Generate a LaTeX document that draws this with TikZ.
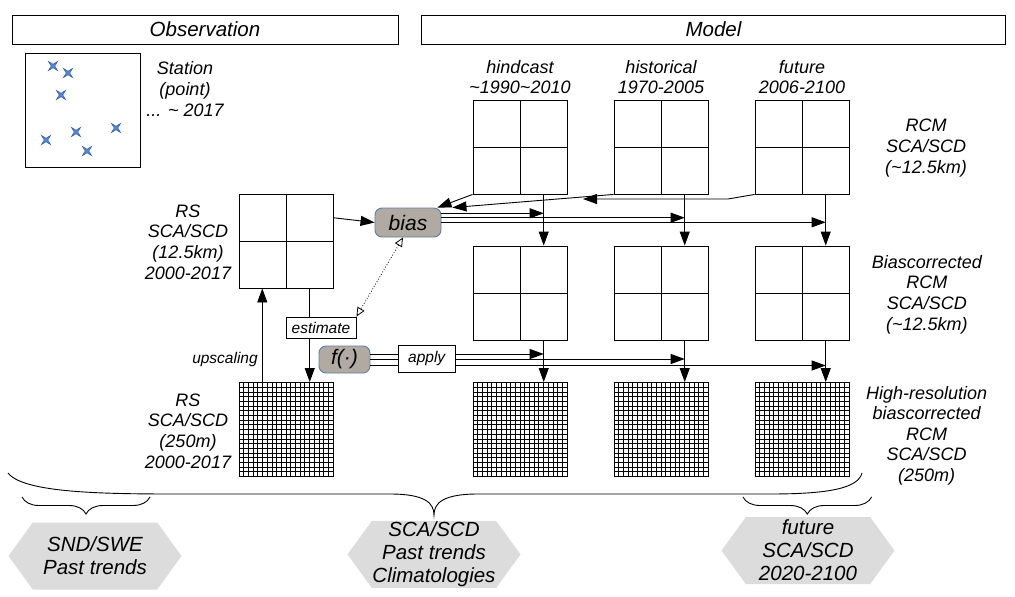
\documentclass[tikz,border=0pt]{standalone}
\usepackage{fontspec}
\setmainfont{Liberation Sans}
\usetikzlibrary{shapes.geometric,shapes.symbols,arrows.meta,calc,decorations.pathreplacing}

\definecolor{biasfill}{RGB}{176,170,162}
\definecolor{biasedge}{RGB}{95,125,165}
\definecolor{hexfill}{RGB}{220,220,220}
\definecolor{starfill}{RGB}{90,135,200}
\definecolor{staredge}{RGB}{55,95,160}

\begin{document}
\begin{tikzpicture}[x=1pt,y=-1pt,line width=0.9pt,
 lbl/.style={font=\fontsize{18}{20.6}\selectfont\itshape, align=center, inner sep=0pt},
 header/.style={draw, minimum width=386pt, minimum height=29pt, font=\fontsize{20.5}{22}\selectfont\itshape, inner sep=0pt},
 coarse/.style={draw, minimum size=94pt, inner sep=0pt,
   path picture={\draw (path picture bounding box.north) -- (path picture bounding box.south)
                       (path picture bounding box.west) -- (path picture bounding box.east);}},
 fine/.style={draw, minimum size=94pt, inner sep=0pt,
   path picture={\foreach \i in {1,...,19}{
     \draw[line width=0.75pt] ($(path picture bounding box.north west)!\i/20!(path picture bounding box.north east)$) -- ($(path picture bounding box.south west)!\i/20!(path picture bounding box.south east)$);
     \draw[line width=0.75pt] ($(path picture bounding box.north west)!\i/20!(path picture bounding box.south west)$) -- ($(path picture bounding box.north east)!\i/20!(path picture bounding box.south east)$);}}},
 rnd/.style={draw=biasedge, fill=biasfill, rounded corners=7pt, font=\fontsize{21}{24}\selectfont\itshape, inner sep=0pt},
 sbox/.style={draw, font=\fontsize{15.5}{18}\selectfont\itshape, inner sep=0pt, minimum height=21pt},
 small/.style={font=\fontsize{15.5}{18}\selectfont\itshape, inner sep=0pt},
 hex/.style={shape=signal, signal to=west and east, signal pointer angle=108, fill=hexfill, draw=none,
   minimum width=173pt, minimum height=67pt, inner sep=0pt, align=center,
   font=\fontsize{20.5}{23}\selectfont\itshape},
 starmark/.style={fill=starfill, draw=staredge, line width=0.5pt},
 arr/.style={-{Triangle[length=14pt,width=10pt]}},
 bracestyle/.style={decorate, decoration={brace, mirror, amplitude=17pt}}
]
\useasboundingbox (0,0) rectangle (1015,597);

% headers
\node[header] (obs) at (205,29.5) {Observation};
\node[header, minimum width=584pt] (mod) at (713.5,29.5) {Model};

% station
\node[draw, minimum width=115pt, minimum height=114pt, inner sep=0pt] (stbox) at (82.5,110) {};
\foreach \p in {(53,66),(68,73),(61,95),(46,140),(76,132),(87,151),(116,128)}{
  \path[starmark] \p +(45:6.5) -- +(90:1.8) -- +(135:6.5) -- +(180:1.8) -- +(225:6.5) -- +(270:1.8) -- +(315:6.5) -- +(0:1.8) -- cycle;
}
\node[lbl] (stlbl) at (185,89) {Station\\(point)\\... \textasciitilde{} 2017};

% RS
\node[coarse] (rs) at (286,241) {};
\node[lbl] (rslbl) at (188,242) {RS\\SCA/SCD\\(12.5km)\\2000-2017};
\node[fine] (rsf) at (286,429.5) {};
\node[lbl] (rsflbl) at (188,431) {RS\\SCA/SCD\\(250m)\\2000-2017};
\node[small] (up) at (225,359) {upscaling};

\node[sbox, minimum width=70pt] (est) at (321,327.5) {estimate};
\node[rnd, minimum width=51pt, minimum height=27pt] (f) at (344.5,359.5) {f(·)};
\node[sbox, minimum width=56.5pt, minimum height=27pt] (apply) at (426.7,358.5) {apply};
\node[rnd, minimum width=66pt, minimum height=29pt] (bias) at (408,222.5) {bias};

% model columns
\node[coarse] (hc) at (520,147) {};
\node[coarse] (hi) at (661,147) {};
\node[coarse] (fu) at (802,147) {};
\node[coarse] (hcb) at (520,293) {};
\node[coarse] (hib) at (661,293) {};
\node[coarse] (fub) at (802,293) {};
\node[fine] (hcf) at (520,429.5) {};
\node[fine] (hif) at (661,429.5) {};
\node[fine] (fuf) at (802,429.5) {};

\node[lbl] (hcl) at (520,77) {hindcast\\\textasciitilde 1990\textasciitilde 2010};
\node[lbl] (hil) at (661,77) {historical\\1970-2005};
\node[lbl] (ful) at (802,77) {future\\2006-2100};

\node[lbl] (rcml) at (926,148) {RCM\\SCA/SCD\\(\textasciitilde 12.5km)};
\node[lbl] (bcl) at (926.8,294.5) {Biascorrected\\RCM\\SCA/SCD\\(\textasciitilde 12.5km)};
\node[lbl] (hrl) at (926.7,435.6) {High-resolution\\biascorrected\\RCM\\SCA/SCD\\(250m)};

% column line positions
\coordinate (hcx) at ($(hc.south)!0.5!(hc.south east)$);
\coordinate (hix) at ($(hi.south)!0.5!(hi.south east)$);
\coordinate (fux) at ($(fu.south)!0.5!(fu.south east)$);

% vertical arrows
\foreach \c/\b/\g in {hcx/hcb/hcf, hix/hib/hif, fux/fub/fuf}{
  \draw[arr] (\c) -- (\c |- \b.north);
  \draw[arr] (\c |- \b.south) -- (\c |- \g.north);
}

% RS to bias
\draw[arr] ($(rs.north east)!0.255!(rs.south east)$) -- (bias.west);

% model to bias
\draw[arr] (hc.south west) -- ([xshift=-4pt]bias.north east);
\draw[arr] (hi.south west) -- ([xshift=11pt]bias.north east);
\coordinate (fk) at (728,199);
\coordinate (fj) at (583,199);
\draw[arr] (fu.south west) -- (fk) -- (fj);

% bias outputs
\coordinate (b1) at ([yshift=9.2pt]bias.east);
\coordinate (b2) at ([yshift=4.8pt]bias.east);
\coordinate (b3) at ([yshift=0.2pt]bias.east);
\draw[arr] (b1) -- (b1 -| hcx);
\draw[arr] (b2) -- (b2 -| hix);
\draw[arr] (b3) -- (b3 -| fux);

% f / apply outputs
\coordinate (a1) at ([yshift=5.5pt]f.east);
\coordinate (a2) at ([yshift=0.5pt]f.east);
\coordinate (a3) at ([yshift=-6pt]f.east);
\foreach \a in {a1,a2,a3}{ \draw (\a) -- (\a -| apply.west); }
\draw[arr] (a1 -| apply.east) -- (a1 -| hcx);
\draw[arr] (a2 -| apply.east) -- (a2 -| hix);
\draw[arr] (a3 -| apply.east) -- (a3 -| fux);

% RS estimate / upscaling
\coordinate (rsr) at ($(rs.south)!0.5!(rs.south east)$);
\draw (rsr) -- (rsr |- est.north);
\draw[arr] (rsr |- est.south) -- (rsr |- rsf.north);
\coordinate (rsl) at ($(rsf.north)!0.5!(rsf.north west)$);
\draw[arr] (rsl) -- (rsl |- rs.south);

% dotted estimate-bias
\draw[dotted, line width=0.8pt, {Triangle[open,length=9pt,width=8pt]}-{Triangle[open,length=9pt,width=8pt]}]
  ([xshift=-5pt]bias.south) -- (est.north east);

% braces
\draw (8,473) .. controls (25,495) and (120,494) .. (200,494) -- (390,494)
  .. controls (425,494) and (434,503) .. (434,515)
  .. controls (434,503) and (443,494) .. (478,494) -- (770,494)
  .. controls (830,494) and (858,488) .. (862,473);
\draw[bracestyle] (22,497) -- (150,497);
\draw[bracestyle] (743,497) -- (871.6,497);

% hexagons
\node[hex] (h1) at (95,556) {SND/SWE\\Past trends};
\node[hex] (h2) at (434,554.4) {SCA/SCD\\Past trends\\Climatologies};
\node[hex] (h3) at (808,550.6) {future\\SCA/SCD\\2020-2100};
\end{tikzpicture}
\end{document}
